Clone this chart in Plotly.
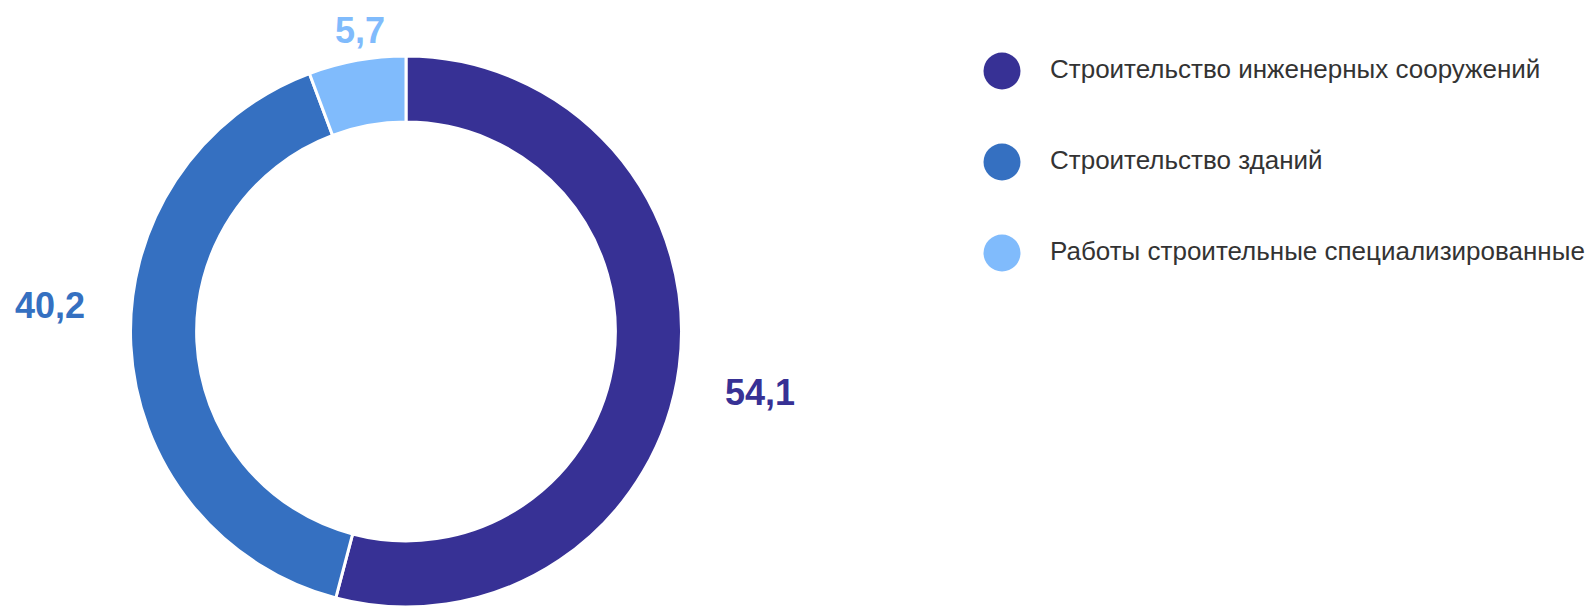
import math
import plotly.graph_objects as go

categories = ["Строительство инженерных сооружений", "Строительство зданий", "Работы строительные специализированные"]
values = [54.1, 40.2, 5.7]
value_labels = ["54,1", "40,2", "5,7"]
colors = ["#373195", "#3570C1", "#80BBFC"]

W, H = 1591, 607
FONT = "Liberation Sans, Arial, sans-serif"

# pie geometry (pixels)
pie_top, pie_left, pie_right = 56, 128, 684
R = (H - pie_top) / 2.0
cx = (pie_left + pie_right) / 2.0
cy = pie_top + R

fig = go.Figure()
fig.add_trace(go.Pie(
    labels=categories,
    values=values,
    textinfo="none",
    hole=0.76,
    sort=False,
    direction="clockwise",
    rotation=0,
    marker=dict(colors=colors, line=dict(color="white", width=3)),
    domain=dict(x=[(cx - R) / W, (cx + R) / W], y=[0, 1 - pie_top / H]),
    showlegend=False,
    hoverinfo="label+value",
))

# value labels placed outside the ring at each slice's mid-angle
label_gap = 40
label_nudge = [(4, 20), (-4, -42), (10, 9)]  # pixel fine-tuning (dx, dy)
total = sum(values)
annotations = []
cum = 0.0
for v, txt, col, (ndx, ndy) in zip(values, value_labels, colors, label_nudge):
    mid = (cum + v / 2) / total * 2 * math.pi
    cum += v
    s, c = math.sin(mid), math.cos(mid)
    px = cx + (R + label_gap) * s + ndx
    py = cy - (R + label_gap) * c + ndy
    xa = "left" if s > 0.5 else ("right" if s < -0.5 else "center")
    annotations.append(dict(
        x=px / W, y=1 - py / H, xref="paper", yref="paper",
        text=f"<b>{txt}</b>", showarrow=False, xanchor=xa, yanchor="middle",
        font=dict(family=FONT, size=36, color=col),
    ))

# custom legend: big circular markers + labels on a hidden pixel-scaled axis
leg_x0 = 0.6
idx = list(range(len(categories)))
fig.add_trace(go.Scatter(
    x=[1002 - leg_x0 * W] * len(categories), y=idx,
    mode="markers",
    marker=dict(size=37, color=colors, line=dict(width=0)),
    showlegend=False, hoverinfo="skip", cliponaxis=False,
))
fig.add_trace(go.Scatter(
    x=[1050 - leg_x0 * W] * len(categories), y=idx,
    mode="text", text=categories, textposition="middle right",
    textfont=dict(family=FONT, size=26, color="#333333"),
    showlegend=False, hoverinfo="skip", cliponaxis=False,
))

row_px = 91.0
first_px = 71.0
fig.update_layout(
    width=W, height=H,
    margin=dict(l=0, r=0, t=0, b=0),
    paper_bgcolor="white", plot_bgcolor="white",
    xaxis=dict(domain=[leg_x0, 1], range=[0, (1 - leg_x0) * W], visible=False, fixedrange=True),
    yaxis=dict(domain=[0, 1], range=[(H - first_px) / row_px, -first_px / row_px], visible=False, fixedrange=True),
    showlegend=False,
    annotations=annotations,
)

fig.write_html(
    "out.html",
    config={"displayModeBar": False},
    post_script="document.body.style.margin='0px';document.body.style.overflow='hidden';",
)
